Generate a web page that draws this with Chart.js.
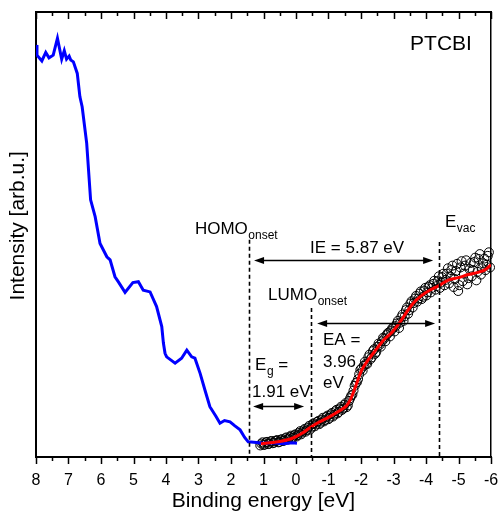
<!DOCTYPE html>
<html>
<head>
<meta charset="utf-8">
<script src="https://cdn.jsdelivr.net/npm/chart.js@4.4.1/dist/chart.umd.min.js"></script>
<style>
    body { margin: 0; background: #fff; }
    canvas { display: block; }
</style>
</head>
<body>
<canvas id="upsChart" width="501" height="512"></canvas>
<script>
// UPS (blue line), IPES (open circles) and its fit (red) for PTCBI
const upsEnergy = [8.0, 7.97, 7.82, 7.70, 7.60, 7.47, 7.34, 7.21, 7.13, 7.06, 6.98, 6.93, 6.85, 6.73, 6.65, 6.58, 6.44, 6.32, 6.18, 6.03, 5.82, 5.72, 5.57, 5.47, 5.26, 5.02, 4.85, 4.70, 4.49, 4.29, 4.13, 4.08, 4.03, 3.98, 3.72, 3.52, 3.36, 3.21, 3.11, 2.95, 2.80, 2.65, 2.46, 2.34, 2.20, 2.03, 1.88, 1.72, 1.58, 1.47, 1.30, 1.00, 0.70, 0.40, 0.10, -0.03];
const upsIntensity = [92.6, 90.3, 89.0, 90.9, 89.7, 90.3, 94.1, 89.4, 91.3, 89.4, 90.1, 89.2, 88.8, 86.2, 81.0, 78.7, 70.5, 57.8, 54.0, 48.0, 45.0, 44.3, 40.5, 39.4, 37.0, 39.2, 39.4, 37.5, 37.1, 33.8, 29.3, 25.6, 23.3, 22.5, 21.1, 22.2, 24.0, 22.5, 22.2, 18.8, 15.0, 11.3, 9.1, 7.6, 8.2, 7.9, 7.0, 6.1, 4.4, 3.4, 3.3, 3.1, 3.2, 3.0, 3.2, 3.1];

// IPES points, two interleaved sweeps
const ipesEnergy = [1.10, 1.03, 0.96, 0.89, 0.82, 0.75, 0.68, 0.61, 0.54, 0.47, 0.40, 0.33, 0.26, 0.19, 0.12, 0.05, -0.02, -0.09, -0.16, -0.23, -0.30, -0.37, -0.44, -0.51, -0.58, -0.65, -0.72, -0.79, -0.86, -0.93, -1.00, -1.07, -1.14, -1.21, -1.28, -1.35, -1.42, -1.49, -1.56, -1.63, -1.70, -1.77, -1.84, -1.91, -1.98, -2.05, -2.12, -2.19, -2.26, -2.33, -2.40, -2.47, -2.54, -2.61, -2.68, -2.75, -2.82, -2.89, -2.96, -3.03, -3.10, -3.17, -3.24, -3.31, -3.38, -3.45, -3.52, -3.59, -3.66, -3.73, -3.80, -3.87, -3.94, -4.01, -4.08, -4.15, -4.22, -4.29, -4.36, -4.43, -4.50, -4.57, -4.64, -4.71, -4.78, -4.85, -4.92, -4.99, -5.06, -5.13, -5.20, -5.27, -5.34, -5.41, -5.48, -5.55, -5.62, -5.69, -5.76, -5.83, -5.90, -5.97];
const ipesIntensity = [2.6, 3.3, 2.8, 3.4, 3.0, 3.6, 3.2, 3.7, 3.3, 3.9, 3.6, 4.2, 3.9, 4.5, 4.2, 4.9, 4.6, 5.4, 5.1, 6.0, 5.7, 6.6, 6.2, 7.4, 6.9, 7.9, 7.4, 8.4, 8.0, 9.0, 8.5, 9.6, 9.1, 10.3, 9.8, 10.9, 10.6, 11.7, 11.2, 12.6, 13.8, 14.9, 16.6, 17.5, 19.6, 19.4, 21.4, 20.9, 23.0, 22.4, 24.2, 23.6, 25.5, 24.8, 26.8, 26.0, 27.8, 27.1, 28.9, 28.2, 30.0, 29.0, 31.4, 30.6, 33.0, 32.2, 34.5, 33.6, 35.6, 34.9, 36.7, 35.5, 37.4, 36.3, 38.2, 37.0, 38.9, 37.6, 39.5, 38.0, 40.4, 38.6, 41.2, 39.0, 42.0, 38.2, 41.8, 37.3, 42.6, 39.5, 43.0, 38.8, 42.2, 40.6, 43.8, 39.7, 44.5, 41.0, 43.5, 42.0, 45.2, 42.6];
const ipesEnergy2 = [1.065, 0.995, 0.925, 0.855, 0.785, 0.715, 0.645, 0.575, 0.505, 0.435, 0.365, 0.295, 0.225, 0.155, 0.085, 0.015, -0.055, -0.125, -0.195, -0.265, -0.335, -0.405, -0.475, -0.545, -0.615, -0.685, -0.755, -0.825, -0.895, -0.965, -1.035, -1.105, -1.175, -1.245, -1.315, -1.385, -1.455, -1.525, -1.595, -1.665, -1.735, -1.805, -1.875, -1.945, -2.015, -2.085, -2.155, -2.225, -2.295, -2.365, -2.435, -2.505, -2.575, -2.645, -2.715, -2.785, -2.855, -2.925, -2.995, -3.065, -3.135, -3.205, -3.275, -3.345, -3.415, -3.485, -3.555, -3.625, -3.695, -3.765, -3.835, -3.905, -3.975, -4.045, -4.115, -4.185, -4.255, -4.325, -4.395, -4.465, -4.535, -4.605, -4.675, -4.745, -4.815, -4.885, -4.955, -5.025, -5.095, -5.165, -5.235, -5.305, -5.375, -5.445, -5.515, -5.585, -5.655, -5.725, -5.795, -5.865, -5.935];
const ipesIntensity2 = [3.0, 2.7, 3.3, 2.9, 3.5, 3.1, 3.6, 3.8, 3.4, 4.0, 3.7, 4.4, 4.1, 4.8, 4.4, 5.1, 4.9, 5.8, 5.5, 6.3, 6.0, 7.0, 6.6, 7.6, 7.3, 8.1, 7.7, 8.8, 8.3, 9.3, 8.8, 9.9, 9.5, 10.6, 10.1, 11.3, 10.9, 12.1, 11.6, 13.2, 14.0, 16.0, 16.8, 18.6, 19.9, 20.5, 21.0, 22.4, 22.0, 23.8, 23.2, 24.8, 25.2, 26.0, 26.6, 27.4, 28.0, 28.4, 29.1, 29.4, 30.6, 30.2, 32.0, 31.6, 33.6, 33.0, 35.0, 34.6, 36.2, 35.6, 37.2, 36.0, 38.0, 37.0, 38.6, 38.0, 39.6, 38.4, 40.6, 39.2, 41.2, 39.8, 42.4, 40.6, 43.0, 40.0, 43.4, 38.6, 44.0, 41.2, 44.2, 40.2, 43.6, 42.0, 44.8, 41.6, 45.6, 42.4, 44.6, 43.2, 46.0];

const fitEnergy = [1.08, 0.8, 0.5, 0.2, 0.0, -0.2, -0.45, -0.7, -1.0, -1.3, -1.55, -1.68, -1.85, -2.0, -2.2, -2.45, -2.7, -2.95, -3.2, -3.4, -3.6, -3.85, -4.1, -4.4, -4.7, -5.0, -5.3, -5.6, -5.8, -6.0];
const fitIntensity = [3.0, 3.2, 3.5, 4.0, 4.6, 5.4, 6.7, 7.8, 8.9, 10.2, 11.5, 13.0, 16.2, 19.2, 21.6, 24.0, 26.3, 28.0, 30.3, 32.5, 34.5, 36.2, 37.4, 38.5, 39.8, 40.3, 41.0, 41.5, 42.0, 43.2];

const xTickValues = [8, 7, 6, 5, 4, 3, 2, 1, 0, -1, -2, -3, -4, -5, -6];

// energy levels [eV]
const homoOnset = 1.46;
const lumoOnset = -0.45;
const vacuumLevel = -4.41;

const FONT = '"Liberation Sans", Arial, sans-serif';

const toPoints = (xs, ys) => xs.map((v, i) => ({ x: v, y: ys[i] }));

// Frame ticks: outward at the bottom, inward at the top, minor ticks halfway
const frameTicks = {
    id: 'frameTicks',
    afterDraw(chart) {
        const { ctx, chartArea: area, scales: { x } } = chart;
        const majors = x.ticks.map(t => t.value);
        ctx.save();
        ctx.strokeStyle = '#000';
        ctx.lineWidth = 1.5;
        const mark = (v, len) => {
            const px = Math.round(x.getPixelForValue(v)) + 0.5;
            ctx.beginPath();
            ctx.moveTo(px, area.bottom);
            ctx.lineTo(px, area.bottom + len);
            ctx.moveTo(px, area.top);
            ctx.lineTo(px, area.top + len);
            ctx.stroke();
        };
        majors.forEach((v, i) => {
            mark(v, 7);
            if (i < majors.length - 1) mark((v + majors[i + 1]) / 2, 4);
        });
        ctx.restore();
    }
};

// Onset lines, arrows and labels
const levelAnnotations = {
    id: 'levelAnnotations',
    afterDatasetsDraw(chart) {
        const { ctx, scales: { x, y } } = chart;
        const px = v => x.getPixelForValue(v);
        const py = v => y.getPixelForValue(v);

        ctx.save();
        ctx.strokeStyle = '#000';
        ctx.fillStyle = '#000';

        // dashed vertical lines
        ctx.lineWidth = 1.6;
        ctx.setLineDash([4, 3]);
        [[homoOnset, 48.8], [lumoOnset, 33.5], [vacuumLevel, 48.3]].forEach(([e, top]) => {
            const xx = Math.round(px(e)) + 0.5;
            ctx.beginPath();
            ctx.moveTo(xx, py(top));
            ctx.lineTo(xx, py(0));
            ctx.stroke();
        });
        ctx.setLineDash([]);

        // double-headed arrows
        const arrow = (e1, e2, level) => {
            const x1 = px(e1), x2 = px(e2), yy = Math.round(py(level)) + 0.5;
            ctx.lineWidth = 1.5;
            ctx.beginPath();
            ctx.moveTo(x1 + 6, yy);
            ctx.lineTo(x2 - 6, yy);
            ctx.stroke();
            [[x1, 1], [x2, -1]].forEach(([tip, dir]) => {
                ctx.beginPath();
                ctx.moveTo(tip, yy);
                ctx.lineTo(tip + dir * 10, yy - 3.5);
                ctx.lineTo(tip + dir * 10, yy + 3.5);
                ctx.closePath();
                ctx.fill();
            });
        };
        arrow(1.29, -4.22, 44.3);
        arrow(-0.65, -4.28, 30.1);
        arrow(1.32, -0.25, 11.5);

        // labels
        ctx.textBaseline = 'alphabetic';
        const text = (str, e, level, size, align = 'left') => {
            ctx.font = size + 'px ' + FONT;
            ctx.textAlign = align;
            ctx.fillText(str, px(e), py(level));
            return ctx.measureText(str).width;
        };
        const withSub = (main, sub, e, level, after = '') => {
            const w = text(main, e, level, 17);
            const x0 = px(e) + w + 0.5;
            ctx.font = '12px ' + FONT;
            ctx.textAlign = 'left';
            ctx.fillText(sub, x0, py(level) + 5);
            const ws = ctx.measureText(sub).width;
            if (after) {
                ctx.font = '17px ' + FONT;
                ctx.fillText(after, x0 + ws, py(level));
            }
        };
        withSub('HOMO', 'onset', 3.11, 50.1);
        withSub('LUMO', 'onset', 0.86, 35.3);
        withSub('E', 'vac', -4.585, 51.7);
        withSub('E', 'g', 1.26, 19.6, ' =');
        text('IE = 5.87 eV', -1.88, 45.8, 17, 'center');
        text('1.91 eV', 1.354, 13.5, 17);
        text('EA =', -0.83, 25.2, 17);
        text('3.96', -0.83, 20.2, 17);
        text('eV', -0.83, 15.5, 17);
        text('PTCBI', -3.51, 91.5, 21);
        ctx.restore();
    }
};

window.addEventListener('DOMContentLoaded', () => {
    const ctx = document.getElementById('upsChart').getContext('2d');

    new Chart(ctx, {
        type: 'scatter',
        data: {
            datasets: [
                {
                    label: 'IPES fit',
                    data: toPoints(fitEnergy, fitIntensity),
                    showLine: true,
                    borderColor: '#ff0000',
                    borderWidth: 3,
                    pointRadius: 0,
                    tension: 0.3,
                    order: 0
                },
                {
                    label: 'UPS',
                    data: toPoints(upsEnergy, upsIntensity),
                    showLine: true,
                    borderColor: '#0000ff',
                    borderWidth: 3,
                    pointRadius: 0,
                    tension: 0,
                    order: 1
                },
                {
                    label: 'IPES',
                    data: toPoints(ipesEnergy, ipesIntensity).concat(toPoints(ipesEnergy2, ipesIntensity2)),
                    showLine: false,
                    pointStyle: 'circle',
                    pointRadius: 4.5,
                    borderColor: '#000',
                    borderWidth: 1,
                    backgroundColor: 'rgba(255,255,255,0)',
                    clip: false,
                    order: 2
                }
            ]
        },
        options: {
            responsive: false,
            animation: false,
            devicePixelRatio: 1,
            layout: { padding: { top: 12, right: 10, left: 0, bottom: 0 } },
            plugins: {
                legend: { display: false },
                tooltip: { enabled: false }
            },
            scales: {
                x: {
                    type: 'linear',
                    position: 'bottom',
                    min: -6,
                    max: 8,
                    reverse: true,
                    afterBuildTicks: s => { s.ticks = xTickValues.map(v => ({ value: v })); },
                    afterFit: s => { s.height = 55; s.paddingLeft = 0; s.paddingRight = 0; },
                    ticks: {
                        autoSkip: false,
                        maxRotation: 0,
                        padding: 14,
                        color: '#000',
                        font: { family: FONT, size: 16 }
                    },
                    grid: { display: false, drawTicks: false },
                    border: { display: true, color: '#000', width: 2 },
                    title: {
                        display: true,
                        text: 'Binding energy [eV]',
                        color: '#000',
                        font: { family: FONT, size: 21, lineHeight: 1 },
                        padding: { top: 0, bottom: 0 }
                    }
                },
                xTop: {
                    type: 'linear',
                    position: 'top',
                    min: -6,
                    max: 8,
                    reverse: true,
                    afterFit: s => { s.height = 0; s.paddingLeft = 0; s.paddingRight = 0; },
                    ticks: { display: false },
                    grid: { display: false, drawTicks: false },
                    border: { display: true, color: '#000', width: 2 }
                },
                y: {
                    type: 'linear',
                    position: 'left',
                    min: 0,
                    max: 100,
                    afterFit: s => { s.width = 36; s.paddingTop = 0; s.paddingBottom = 0; },
                    ticks: { display: false },
                    grid: { display: false, drawTicks: false },
                    border: { display: true, color: '#000', width: 2 },
                    title: {
                        display: true,
                        text: '   Intensity [arb.u.]',
                        color: '#000',
                        font: { family: FONT, size: 21, lineHeight: 1 },
                        padding: { top: 8, bottom: 0 }
                    }
                },
                yRight: {
                    type: 'linear',
                    position: 'right',
                    min: 0,
                    max: 100,
                    afterFit: s => { s.width = 0; s.paddingTop = 0; s.paddingBottom = 0; },
                    ticks: { display: false },
                    grid: { display: false, drawTicks: false },
                    border: { display: true, color: '#000', width: 1.5 }
                }
            }
        },
        plugins: [frameTicks, levelAnnotations]
    });
});
</script>
</body>
</html>
